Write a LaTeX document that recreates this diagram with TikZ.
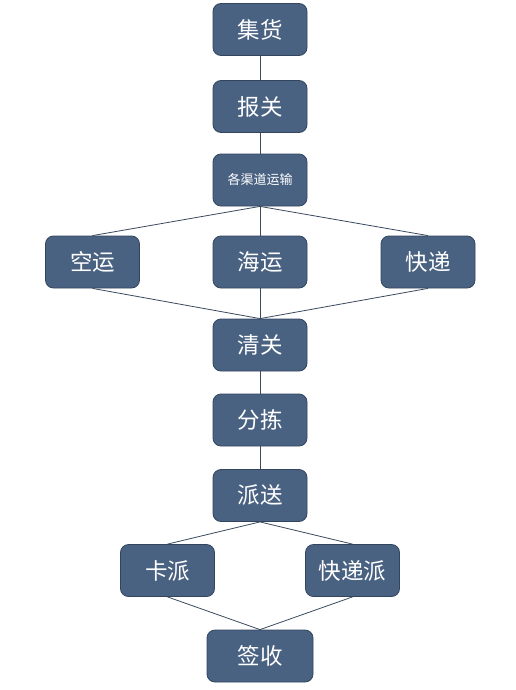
\documentclass[tikz,border=0pt]{standalone}
\usepackage{fontspec}
\setmainfont{Noto Sans CJK SC}
\definecolor{boxfill}{HTML}{4A6282}
\definecolor{boxedge}{HTML}{33455E}
\definecolor{linkcol}{HTML}{3A4A5E}
\begin{document}
\begin{tikzpicture}[x=1pt,y=-1pt,
  box/.style={draw=boxedge, line width=0.8pt, fill=boxfill, rounded corners=8pt,
    minimum width=94pt, minimum height=52pt, inner sep=0pt, text=white,
    font=\fontsize{22.5}{26}\selectfont},
  smallbox/.style={box, font=\fontsize{13}{15}\selectfont},
  link/.style={draw=linkcol, line width=0.8pt}]
\useasboundingbox (0,0) rectangle (516,690);
\node[box] (jh) at (260,29.5) {集货};
\node[box] (bg) at (260,106.5) {报关};
\node[smallbox] (qd) at (260,180) {各渠道运输};
\node[box] (ky) at (92.5,262) {空运};
\node[box] (hy) at (260,262) {海运};
\node[box] (kd) at (428,262) {快递};
\node[box] (qg) at (260,345) {清关};
\node[box] (fj) at (260,420) {分拣};
\node[box] (ps) at (260,495.5) {派送};
\node[box] (kp) at (167.5,570.5) {卡派};
\node[box] (kdp) at (352.5,570.5) {快递派};
\node[box, minimum width=106pt] (qs) at (260,656) {签收};
\draw[link] (jh.south) -- (bg.north);
\draw[link] (bg.south) -- (qd.north);
\draw[link] (qd.south) -- (ky.north);
\draw[link] (qd.south) -- (hy.north);
\draw[link] (qd.south) -- (kd.north);
\draw[link] (ky.south) -- (qg.north);
\draw[link] (hy.south) -- (qg.north);
\draw[link] (kd.south) -- (qg.north);
\draw[link] (qg.south) -- (fj.north);
\draw[link] (fj.south) -- (ps.north);
\draw[link] (ps.south) -- (kp.north);
\draw[link] (ps.south) -- (kdp.north);
\draw[link] (kp.south) -- (qs.north);
\draw[link] (kdp.south) -- (qs.north);
\end{tikzpicture}
\end{document}
